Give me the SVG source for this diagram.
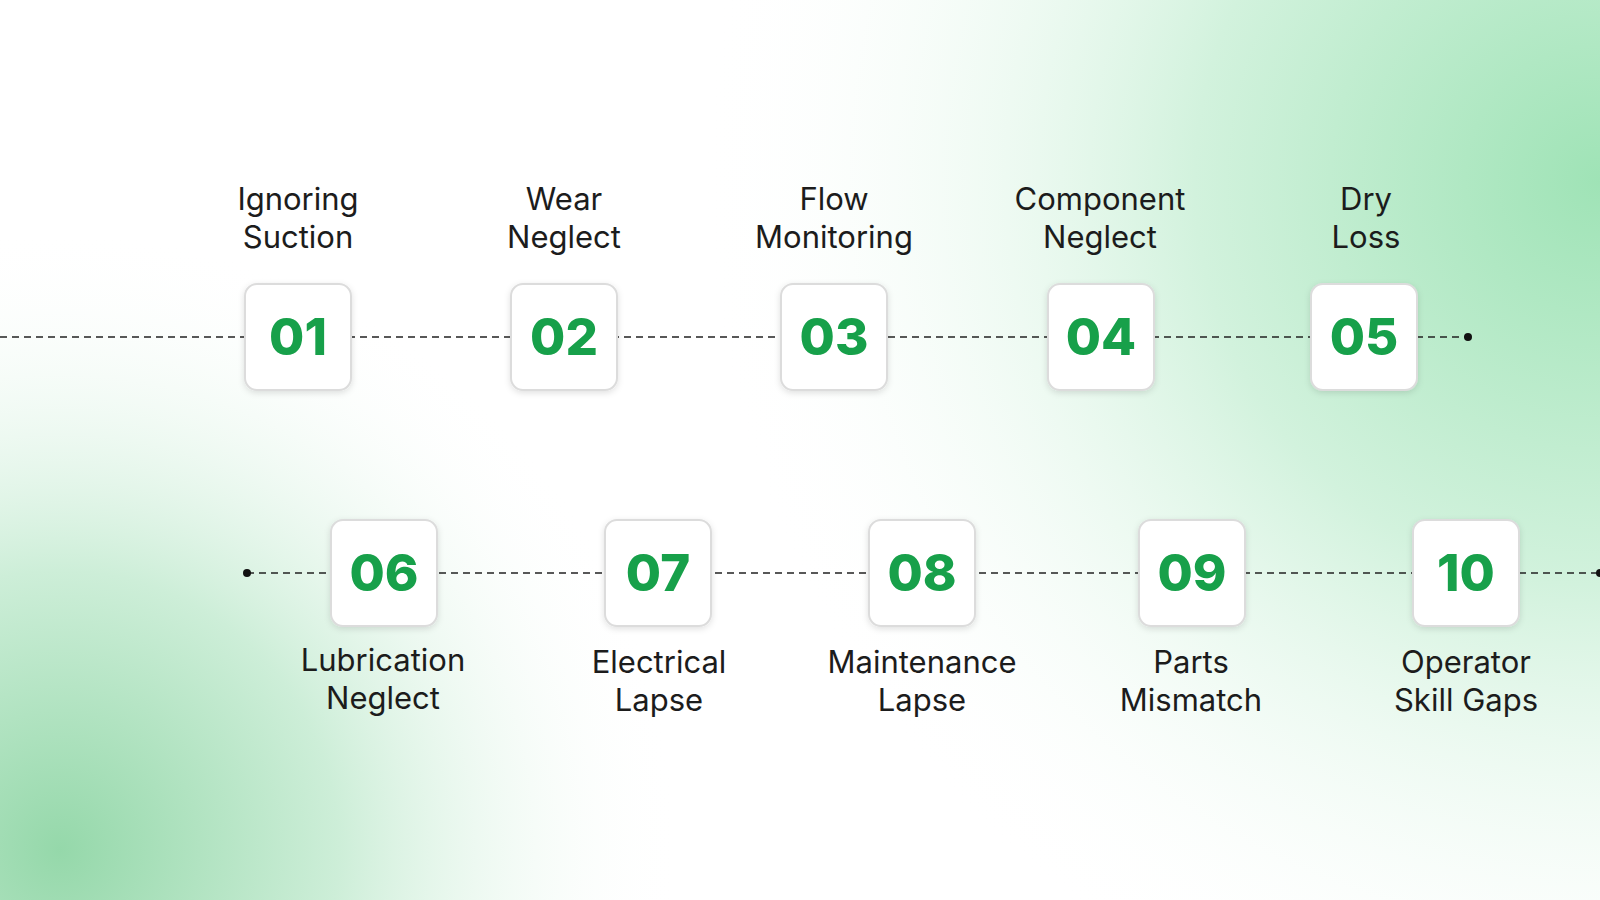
<svg xmlns="http://www.w3.org/2000/svg" width="1600" height="900" viewBox="0 0 1600 900">
<defs>
<radialGradient id="g1" cx="1600" cy="180" r="900" gradientUnits="userSpaceOnUse">
<stop offset="0" stop-color="#9fe3b6"/><stop offset="0.45" stop-color="#d2f2dd"/><stop offset="1" stop-color="#ffffff" stop-opacity="0"/>
</radialGradient>
<radialGradient id="g2" cx="60" cy="850" r="620" gradientUnits="userSpaceOnUse">
<stop offset="0" stop-color="#95d8aa"/><stop offset="0.45" stop-color="#cdeed8"/><stop offset="1" stop-color="#ffffff" stop-opacity="0"/>
</radialGradient>
<filter id="sh" x="-20%" y="-20%" width="140%" height="140%"><feDropShadow dx="0" dy="2" stdDeviation="3" flood-color="#000" flood-opacity="0.12"/></filter>
</defs>
<style>
.box{fill:#fff;stroke:#dcdcdc;stroke-width:2;filter:url(#sh)}
.num{font-family:Inter,"Liberation Sans",sans-serif;font-weight:800;font-size:51px;fill:#17a04a;text-anchor:middle}
.lbl{font-family:Inter,"Liberation Sans",sans-serif;font-size:31px;fill:#1c1c1c;text-anchor:middle}
.dash{stroke:#222;stroke-width:1.5;stroke-dasharray:7 5;fill:none}
</style>
<rect width="1600" height="900" fill="#fff"/>
<rect width="1600" height="900" fill="url(#g1)"/>
<rect width="1600" height="900" fill="url(#g2)"/>
<g id="connectors">
<line class="dash" x1="0" y1="337" x2="1468" y2="337"/>
<circle cx="1468" cy="337" r="4" fill="#111"/>
<line class="dash" x1="247" y1="573" x2="1600" y2="573"/>
<circle cx="247" cy="573" r="4" fill="#111"/>
<circle cx="1600" cy="573" r="4" fill="#111"/>
</g>
<g id="n01"><rect class="box" x="245" y="284" width="106" height="106" rx="12"/><text class="num" x="298" y="355">01</text><text class="lbl" x="298" y="210">Ignoring</text><text class="lbl" x="298" y="248">Suction</text></g>
<g id="n02"><rect class="box" x="511" y="284" width="106" height="106" rx="12"/><text class="num" x="564" y="355">02</text><text class="lbl" x="564" y="210">Wear</text><text class="lbl" x="564" y="248">Neglect</text></g>
<g id="n03"><rect class="box" x="781" y="284" width="106" height="106" rx="12"/><text class="num" x="834" y="355">03</text><text class="lbl" x="834" y="210">Flow</text><text class="lbl" x="834" y="248">Monitoring</text></g>
<g id="n04"><rect class="box" x="1048" y="284" width="106" height="106" rx="12"/><text class="num" x="1101" y="355">04</text><text class="lbl" x="1100" y="210">Component</text><text class="lbl" x="1100" y="248">Neglect</text></g>
<g id="n05"><rect class="box" x="1311" y="284" width="106" height="106" rx="12"/><text class="num" x="1364" y="355">05</text><text class="lbl" x="1366" y="210">Dry</text><text class="lbl" x="1366" y="248">Loss</text></g>
<g id="n06"><rect class="box" x="331" y="520" width="106" height="106" rx="12"/><text class="num" x="384" y="591">06</text><text class="lbl" x="383" y="671">Lubrication</text><text class="lbl" x="383" y="709">Neglect</text></g>
<g id="n07"><rect class="box" x="605" y="520" width="106" height="106" rx="12"/><text class="num" x="658" y="591">07</text><text class="lbl" x="659" y="673">Electrical</text><text class="lbl" x="659" y="711">Lapse</text></g>
<g id="n08"><rect class="box" x="869" y="520" width="106" height="106" rx="12"/><text class="num" x="922" y="591">08</text><text class="lbl" x="922" y="673">Maintenance</text><text class="lbl" x="922" y="711">Lapse</text></g>
<g id="n09"><rect class="box" x="1139" y="520" width="106" height="106" rx="12"/><text class="num" x="1192" y="591">09</text><text class="lbl" x="1191" y="673">Parts</text><text class="lbl" x="1191" y="711">Mismatch</text></g>
<g id="n10"><rect class="box" x="1413" y="520" width="106" height="106" rx="12"/><text class="num" x="1466" y="591">10</text><text class="lbl" x="1466" y="673">Operator</text><text class="lbl" x="1466" y="711">Skill Gaps</text></g>
</svg>
